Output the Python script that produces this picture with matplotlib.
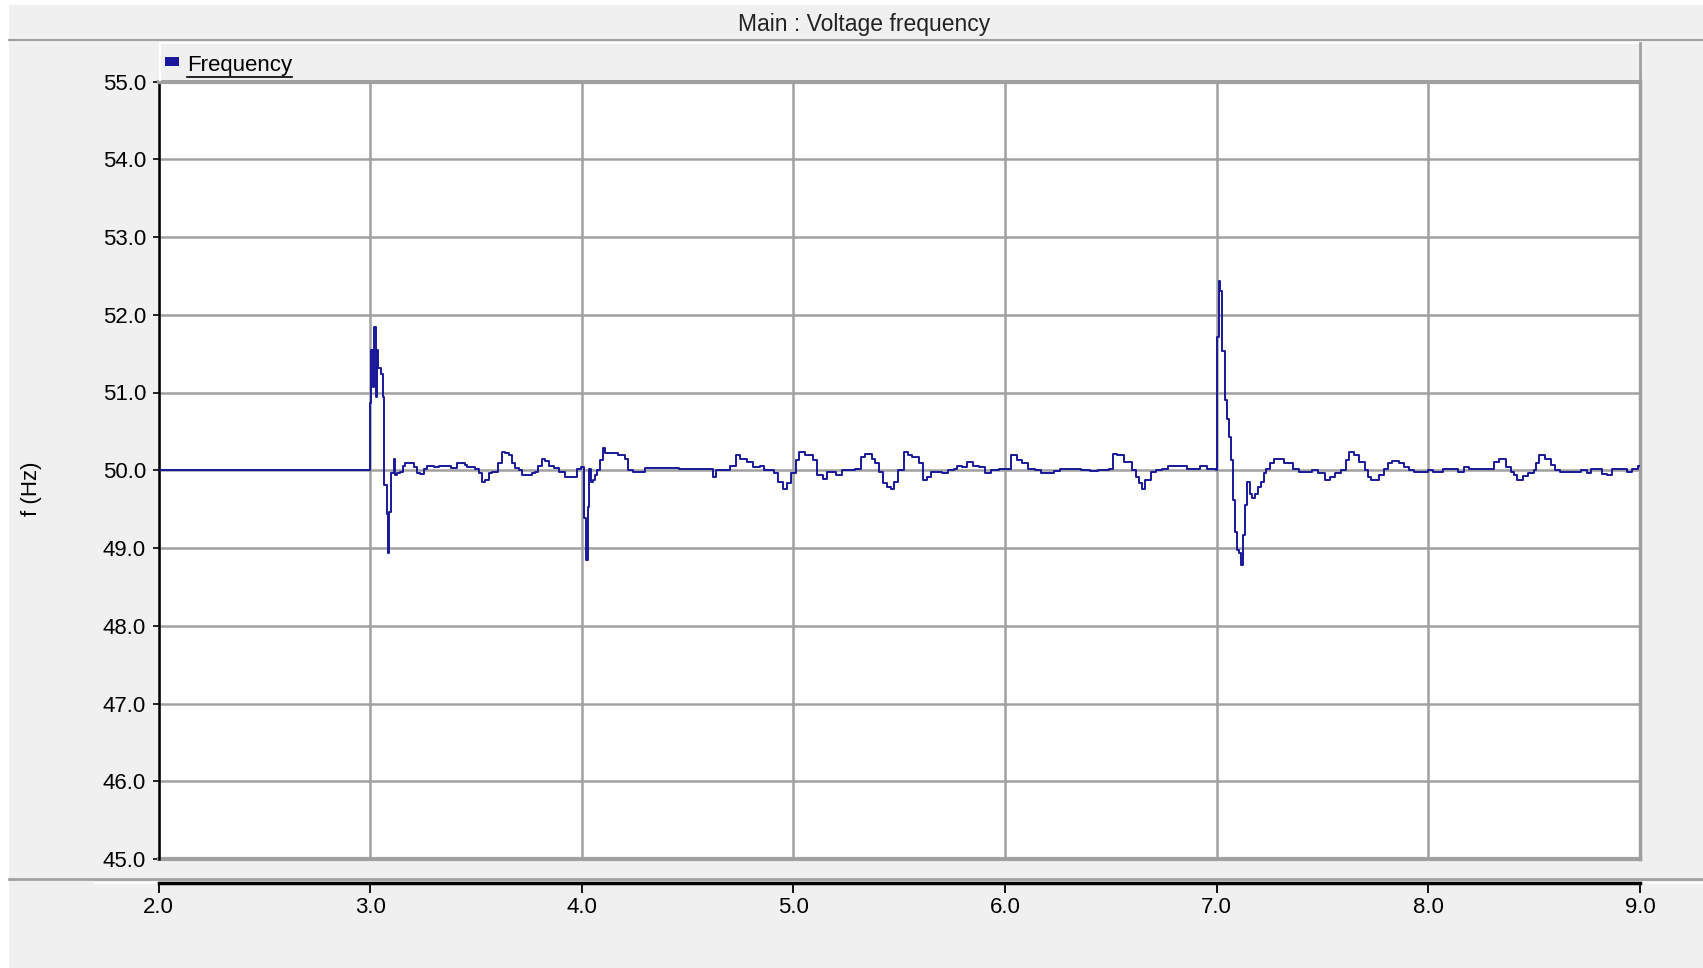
import matplotlib
matplotlib.use("Agg")
import matplotlib.pyplot as plt
import numpy as np
from matplotlib.lines import Line2D
from matplotlib.patches import Rectangle

plt.rcParams['font.family'] = ['Liberation Sans', 'DejaVu Sans']

# time (s) and frequency (Hz), drawn as steps
time_s = [
    2.000, 3.000, 3.005, 3.013, 3.019, 3.028, 3.031, 3.036, 3.049, 3.060,
    3.066, 3.079, 3.084, 3.090, 3.098, 3.110, 3.118, 3.126, 3.142, 3.157,
    3.165, 3.205, 3.220, 3.236, 3.252, 3.268, 3.300, 3.323, 3.339, 3.380,
    3.409, 3.449, 3.457, 3.496, 3.512, 3.528, 3.543, 3.559, 3.575, 3.606,
    3.622, 3.638, 3.654, 3.669, 3.685, 3.701, 3.717, 3.764, 3.780, 3.795,
    3.811, 3.827, 3.843, 3.870, 3.890, 3.921, 3.976, 3.995, 4.010, 4.020,
    4.030, 4.036, 4.042, 4.054, 4.063, 4.072, 4.085, 4.100, 4.110, 4.170,
    4.205, 4.220, 4.240, 4.300, 4.460, 4.620, 4.635, 4.700, 4.728, 4.745,
    4.780, 4.810, 4.840, 4.860, 4.910, 4.925, 4.952, 4.970, 4.990, 5.010,
    5.025, 5.055, 5.090, 5.110, 5.140, 5.160, 5.200, 5.230, 5.290, 5.320,
    5.340, 5.370, 5.385, 5.405, 5.423, 5.441, 5.460, 5.477, 5.495, 5.522,
    5.540, 5.560, 5.595, 5.613, 5.630, 5.650, 5.700, 5.730, 5.757, 5.775,
    5.795, 5.820, 5.850, 5.875, 5.903, 5.935, 5.970, 6.000, 6.030, 6.055,
    6.080, 6.110, 6.140, 6.170, 6.230, 6.260, 6.320, 6.360, 6.400, 6.440,
    6.490, 6.510, 6.530, 6.560, 6.600, 6.620, 6.635, 6.645, 6.660, 6.690,
    6.715, 6.740, 6.770, 6.820, 6.860, 6.923, 6.955, 6.995, 7.000, 7.003,
    7.010, 7.016, 7.027, 7.040, 7.048, 7.057, 7.067, 7.075, 7.086, 7.096,
    7.107, 7.115, 7.123, 7.135, 7.142, 7.155, 7.166, 7.181, 7.195, 7.210,
    7.223, 7.235, 7.250, 7.270, 7.320, 7.360, 7.390, 7.450, 7.480, 7.510,
    7.535, 7.560, 7.585, 7.610, 7.627, 7.650, 7.670, 7.700, 7.715, 7.730,
    7.765, 7.790, 7.810, 7.830, 7.860, 7.885, 7.910, 7.930, 8.000, 8.020,
    8.070, 8.140, 8.170, 8.190, 8.300, 8.310, 8.335, 8.365, 8.390, 8.405,
    8.420, 8.445, 8.470, 8.500, 8.510, 8.525, 8.550, 8.580, 8.600, 8.620,
    8.680, 8.720, 8.750, 8.770, 8.820, 8.845, 8.870, 8.920, 8.940, 8.960,
    8.990, 9.000,
]
freq_hz = [
    50.00, 50.86, 51.55, 51.07, 51.84, 50.94, 51.55, 51.31, 51.24, 50.94,
    49.81, 49.44, 48.93, 49.46, 49.96, 50.15, 49.94, 49.96, 49.98, 50.06,
    50.09, 50.04, 49.96, 49.95, 50.02, 50.06, 50.04, 50.06, 50.05, 50.03,
    50.09, 50.07, 50.04, 50.02, 49.96, 49.85, 49.87, 49.96, 49.98, 50.09,
    50.24, 50.22, 50.19, 50.09, 50.03, 50.00, 49.94, 49.96, 49.98, 50.06,
    50.14, 50.12, 50.06, 50.03, 49.98, 49.91, 50.02, 50.04, 49.38, 48.84,
    49.53, 50.02, 49.85, 49.88, 49.94, 50.00, 50.13, 50.28, 50.22, 50.19,
    50.15, 50.00, 49.98, 50.03, 50.01, 49.91, 50.00, 50.06, 50.19, 50.15,
    50.11, 50.04, 50.06, 50.00, 49.96, 49.85, 49.76, 49.83, 49.96, 50.13,
    50.24, 50.19, 50.13, 49.94, 49.89, 49.98, 49.94, 50.00, 50.01, 50.17,
    50.21, 50.15, 50.09, 49.98, 49.83, 49.79, 49.76, 49.85, 50.00, 50.24,
    50.19, 50.17, 50.09, 49.87, 49.91, 49.98, 49.96, 50.00, 50.02, 50.06,
    50.04, 50.11, 50.06, 50.04, 49.96, 50.00, 50.02, 50.02, 50.19, 50.13,
    50.09, 50.02, 50.00, 49.97, 49.99, 50.01, 50.02, 50.00, 49.99, 50.00,
    50.02, 50.21, 50.19, 50.11, 50.00, 49.91, 49.83, 49.76, 49.87, 49.98,
    50.00, 50.02, 50.06, 50.06, 50.02, 50.06, 50.02, 50.00, 50.45, 51.71,
    52.44, 52.31, 51.54, 50.90, 50.66, 50.43, 50.13, 49.62, 49.21, 48.97,
    48.93, 48.78, 49.17, 49.55, 49.85, 49.70, 49.64, 49.70, 49.79, 49.85,
    49.96, 50.02, 50.09, 50.15, 50.09, 50.02, 49.98, 50.00, 49.96, 49.87,
    49.91, 49.96, 50.00, 50.13, 50.24, 50.19, 50.11, 50.00, 49.91, 49.88,
    49.94, 50.02, 50.09, 50.12, 50.09, 50.04, 50.00, 49.98, 50.00, 49.98,
    50.02, 49.98, 50.04, 50.02, 50.01, 50.11, 50.14, 50.04, 49.98, 49.94,
    49.88, 49.92, 49.96, 50.00, 50.09, 50.19, 50.15, 50.07, 50.00, 49.98,
    49.98, 50.00, 49.96, 50.01, 49.95, 49.94, 50.01, 50.02, 49.98, 50.01,
    50.06, 50.06,
]
y_ticks = [45.0, 46.0, 47.0, 48.0, 49.0, 50.0, 51.0, 52.0, 53.0, 54.0, 55.0]
x_ticks = [2.0, 3.0, 4.0, 5.0, 6.0, 7.0, 8.0, 9.0]

W, H = 1703, 968
BG = '#f0f0f0'
GRID = '#a0a0a0'
NAVY = '#18189a'

fig = plt.figure(figsize=(W / 100, H / 100), dpi=100, facecolor=BG)

def fx(px):
    return px / W

def fy(py):
    return 1 - py / H

left, right, top, bottom = 158.6, 1640.0, 81.5, 859.0
ax = fig.add_axes([fx(left), fy(bottom), fx(right - left), (bottom - top) / H])
ax.set_facecolor('white')
ax.step(time_s, freq_hz, where='post', color=NAVY, lw=1.4, zorder=3)
ax.set_xlim(2, 9)
ax.set_ylim(45, 55)
ax.set_yticks(y_ticks)
ax.set_yticklabels(['%.1f' % v for v in y_ticks])
ax.set_xticks(x_ticks)
ax.set_xticklabels(['%.1f' % v for v in x_ticks])
ax.grid(True, color=GRID, lw=1.8)
ax.set_axisbelow(True)
ax.axhline(45, color=GRID, lw=3, clip_on=False, zorder=2)

ax.spines['left'].set_color('black')
ax.spines['left'].set_linewidth(1.8)
ax.spines['right'].set_color(GRID)
ax.spines['right'].set_linewidth(2.5)
ax.spines['top'].set_color(GRID)
ax.spines['top'].set_linewidth(3)
ax.spines['bottom'].set_position(('outward', 17.3))
ax.spines['bottom'].set_color('black')
ax.spines['bottom'].set_linewidth(2.5)

ax.tick_params(axis='y', direction='out', length=4, width=1.2, pad=5,
               labelsize=16, colors='black')
ax.tick_params(axis='x', direction='out', length=7, width=1.3, pad=3,
               labelsize=16, colors='black')
ax.set_ylabel('f (Hz)', fontsize=16)
ax.yaxis.set_label_coords((42 - left) / (right - left), 1 - (489 - top) / (bottom - top),
                          transform=ax.transAxes)

# title band and separators
fig.add_artist(Rectangle((0, fy(5)), 1, fy(0) - fy(5), transform=fig.transFigure,
                         facecolor='white', edgecolor='none', zorder=0))
fig.add_artist(Rectangle((0, 0), fx(9), 1, transform=fig.transFigure,
                         facecolor='white', edgecolor='none', zorder=0))
fig.text(fx(864), fy(24), 'Main : Voltage frequency', ha='center', va='center',
         fontsize=16.5, color='#222222')
fig.add_artist(Line2D([fx(9), 1], [fy(40), fy(40)], transform=fig.transFigure,
                      color=GRID, lw=1.5))
fig.add_artist(Line2D([fx(9), 1], [fy(879), fy(879)], transform=fig.transFigure,
                      color=GRID, lw=2))
fig.add_artist(Line2D([fx(95), 1], [fy(883), fy(883)], transform=fig.transFigure,
                      color='white', lw=1.5, zorder=0))

# legend band above the plot
fig.add_artist(Rectangle((fx(160), fy(80)), fx(right - 160), (80 - 43) / H,
                         transform=fig.transFigure, facecolor=BG, edgecolor='none'))
fig.add_artist(Line2D([fx(160), fx(right)], [fy(43), fy(43)], transform=fig.transFigure,
                      color='white', lw=1.5))
fig.add_artist(Line2D([fx(160), fx(160)], [fy(43), fy(80)], transform=fig.transFigure,
                      color='white', lw=1.5))
fig.add_artist(Line2D([fx(right), fx(right)], [fy(43), fy(80)], transform=fig.transFigure,
                      color=GRID, lw=2))
fig.add_artist(Rectangle((fx(165), fy(66)), fx(14), 9 / H, transform=fig.transFigure,
                         facecolor=NAVY, edgecolor='none'))
leg = fig.text(fx(187), fy(65), 'Frequency', ha='left', va='center', fontsize=16,
               color='black')
fig.canvas.draw()
bb = leg.get_window_extent().transformed(fig.transFigure.inverted())
fig.add_artist(Line2D([bb.x0, bb.x1], [fy(77), fy(77)], transform=fig.transFigure,
                      color='black', lw=1.2))

fig.savefig('out.png', dpi=100, facecolor=BG)
